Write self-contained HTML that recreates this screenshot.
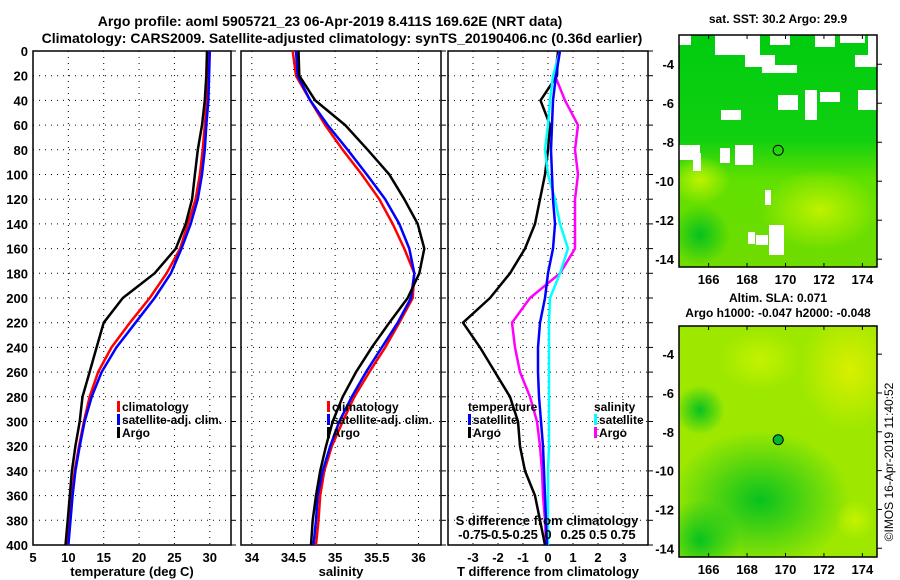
<!DOCTYPE html>
<html><head><meta charset="utf-8"><style>
body{margin:0;background:#fff;}
svg{display:block;font-family:"Liberation Sans",sans-serif;font-weight:bold;}
</style></head><body>
<svg id="fig" width="900" height="580" viewBox="0 0 900 580">
<defs>
<linearGradient id="topMapGrad" x1="0" y1="0" x2="0" y2="1">
<stop offset="0" stop-color="#00cc10"/><stop offset="0.45" stop-color="#10d010"/><stop offset="0.62" stop-color="#60e000"/><stop offset="1" stop-color="#70dc00"/></linearGradient>
<radialGradient id="yellowBlob" cx="0.5" cy="0.5" r="0.5"><stop offset="0" stop-color="#c8f400" stop-opacity="0.9"/><stop offset="1" stop-color="#c8f400" stop-opacity="0"/></radialGradient>
<radialGradient id="greenBlob" cx="0.5" cy="0.5" r="0.5"><stop offset="0" stop-color="#00c020" stop-opacity="0.95"/><stop offset="1" stop-color="#00c020" stop-opacity="0"/></radialGradient>
<radialGradient id="yellow2" cx="0.5" cy="0.5" r="0.5"><stop offset="0" stop-color="#e0f000" stop-opacity="0.9"/><stop offset="1" stop-color="#e0f000" stop-opacity="0"/></radialGradient>
<clipPath id="clipTop"><rect x="679" y="35" width="198" height="232"/></clipPath>
<clipPath id="clipBot"><rect x="679" y="326" width="198" height="231"/></clipPath>
</defs>
<text x="330" y="26" font-size="14" text-anchor="middle">Argo profile: aoml 5905721_23 06-Apr-2019 8.411S 169.62E (NRT data)</text>
<text x="342" y="43" font-size="14" text-anchor="middle">Climatology: CARS2009. Satellite-adjusted climatology: synTS_20190406.nc (0.36d earlier)</text>
<g id="charts"></g>
<g id="maps"></g>
<text transform="translate(893,462) rotate(-90)" font-size="12" font-weight="normal" text-anchor="middle">©IMOS 16-Apr-2019 11:40:52</text>
</svg>
<script>
const depths=[0,20,40,60,80,100,120,140,160,180,200,220,240,260,280,300,320,340,360,380,400];
const tempClim=[29.7,29.7,29.6,29.3,29.0,28.6,28.0,26.9,25.8,23.9,21.5,18.7,16.1,14.2,13.0,12.2,11.5,10.9,10.5,10.2,9.9];
const tempSat=[30.0,29.9,29.8,29.5,29.3,28.9,28.3,27.3,26.0,24.5,22.2,19.5,16.8,14.7,13.3,12.3,11.6,11.0,10.6,10.3,10.0];
const tempArgo=[29.6,29.5,29.3,28.9,28.3,27.9,27.5,26.6,25.2,22.2,17.7,15.0,14.0,13.0,12.0,11.6,11.0,10.5,10.2,9.9,9.6];
const salClim=[34.49,34.53,34.7,34.88,35.09,35.32,35.53,35.69,35.83,35.95,35.93,35.77,35.6,35.41,35.23,35.09,34.96,34.87,34.82,34.8,34.77];
const salSat=[34.53,34.55,34.7,34.91,35.15,35.38,35.6,35.77,35.89,35.95,35.91,35.75,35.56,35.37,35.2,35.05,34.94,34.85,34.79,34.77,34.74];
const salArgo=[34.56,34.57,34.76,35.12,35.39,35.65,35.83,35.99,36.07,36.01,35.87,35.65,35.44,35.25,35.09,34.97,34.89,34.82,34.77,34.73,34.71];
const dTsat=[0.48,0.32,0.2,0.16,0.12,0.16,0.2,0.28,0.2,0,-0.12,-0.32,-0.4,-0.4,-0.36,-0.28,-0.2,-0.16,-0.12,-0.08,-0.04];
const dTargo=[0.4,0.36,-0.3,0.08,0,-0.12,-0.32,-0.52,-0.92,-1.52,-2.32,-3.4,-2.72,-2.12,-1.52,-1.2,-1.12,-0.92,-0.52,-0.32,-0.12];
const dSsat=[0.12,0.05,0.02,0,-0.03,0,0.07,0.12,0.2,0.12,0.02,0.01,0.01,0.01,0.01,0.01,0.01,0,0,0,0];
const dSargo=[0.1,0.07,0.17,0.3,0.27,0.3,0.27,0.27,0.27,0.12,-0.18,-0.36,-0.33,-0.28,-0.18,-0.11,-0.08,-0.06,-0.05,-0.03,-0.02];
const depthTicks=[0,20,40,60,80,100,120,140,160,180,200,220,240,260,280,300,320,340,360,380,400];
const tempTicks=[5,10,15,20,25,30];
const salTicks=[34,34.5,35,35.5,36];
const salTickLabels=["34","34.5","35","35.5","36"];
const dTTicks=[-3,-2,-1,0,1,2,3];
const dSTicks=[-0.75,-0.5,-0.25,0,0.25,0.5,0.75];
const dSTickLabels=["-0.75","-0.5","-0.25","0","0.25","0.5","0.75"];
const lonTicks=[166,168,170,172,174];
const latTicks=[-4,-6,-8,-10,-12,-14];

const NS="http://www.w3.org/2000/svg";
const G=document.getElementById('charts');
function el(tag,attrs,parent){const e=document.createElementNS(NS,tag);for(const k in attrs)e.setAttribute(k,attrs[k]);(parent||G).appendChild(e);return e;}
const Y0=51,Y1=545;
function yD(d){return Y0+(d/400)*(Y1-Y0);}
function lin(d0,d1,p0,p1){return v=>p0+(v-d0)/(d1-d0)*(p1-p0);}
const panels=[
 {x0:33,x1:231,dom:[5,33],ticks:tempTicks,labels:tempTicks.map(String),name:'temperature-panel',xlabel:'temperature (deg C)'},
 {x0:241,x1:441,dom:[33.87,36.27],ticks:salTicks,labels:salTickLabels,name:'salinity-panel',xlabel:'salinity'},
 {x0:448,x1:648,dom:[-4,4],ticks:dTTicks,labels:dTTicks.map(String),name:'difference-panel',xlabel:'T difference from climatology'}
];
panels.forEach((p,i)=>{
 const g=el('g',{});
 
 
 p.x=lin(p.dom[0],p.dom[1],p.x0,p.x1);p.g=g;
 p.ticks.forEach((t,j)=>{
  const X=p.x(t);
  const l=el('line',{x1:X,x2:X,y1:Y0,y2:Y1,stroke:'#000','stroke-width':1,'stroke-dasharray':'1,5'},g);
  
  
  const tx=el('text',{x:X,y:Y1+17,'font-size':13,'text-anchor':'middle'},g);tx.textContent=p.labels[j];
  
  
 });
 depthTicks.forEach(d=>{
  if(d>0&&d<400){const l=el('line',{x1:p.x0,x2:p.x1,y1:yD(d),y2:yD(d),stroke:'#000','stroke-width':1,'stroke-dasharray':'1,5'},g);
  
  }
  el('line',{x1:p.x1,x2:p.x1+5,y1:yD(d),y2:yD(d),stroke:'#000'},g);
  if(i===0){const tx=el('text',{x:28,y:yD(d)+5,'font-size':13,'text-anchor':'end'},g);tx.textContent=d;
  
  }
 });
 const r=el('rect',{x:p.x0,y:Y0,width:p.x1-p.x0,height:Y1-Y0,fill:'none',stroke:'#000','stroke-width':1.5},g);
 
 
 const xl=el('text',{x:(p.x0+p.x1)/2,y:576,'font-size':13,'text-anchor':'middle'},g);xl.textContent=p.xlabel;
 
 
});
function line(p,vals,fx,color,name){
 const pts=vals.map((v,k)=>fx(v).toFixed(1)+','+yD(depths[k]).toFixed(1)).join(' ');
 const pl=el('polyline',{points:pts,fill:'none',stroke:color,'stroke-width':2.5,'stroke-linejoin':'round'},p.g);
 
 
}
const P=panels;
line(P[0],tempClim,P[0].x,'#ff0000','temp-climatology-line');
line(P[0],tempSat,P[0].x,'#0000ff','temp-satellite-line');
line(P[0],tempArgo,P[0].x,'#000','temp-argo-line');
line(P[1],salClim,P[1].x,'#ff0000','sal-climatology-line');
line(P[1],salSat,P[1].x,'#0000ff','sal-satellite-line');
line(P[1],salArgo,P[1].x,'#000','sal-argo-line');
const xS=v=>P[2].x(v*4);
line(P[2],dSargo,xS,'#ff00ff','sdiff-argo-line');
line(P[2],dTargo,P[2].x,'#000','tdiff-argo-line');
line(P[2],dSsat,xS,'#00ffff','sdiff-satellite-line');
line(P[2],dTsat,P[2].x,'#0000ff','tdiff-satellite-line');
// S axis labels
const sg=el('g',{});


const st=el('text',{x:547,y:525,'font-size':13,'text-anchor':'middle'},sg);st.textContent='S difference from climatology';
dSTicks.forEach((t,j)=>{const tx=el('text',{x:xS(t),y:539,'font-size':13,'text-anchor':'middle'},sg);tx.textContent=dSTickLabels[j];
 
 });
// legends
function legend(x,y,items,name){
 const g=el('g',{});
 
 
 items.forEach((it,k)=>{
  const yy=y+k*13;
  if(it[1])el('rect',{x:x,y:yy-10,width:3,height:11,fill:it[1]},g);
  const t=el('text',{x:x+(it[1]?5:0),y:yy,'font-size':12},g);t.textContent=it[0];
  
  
 });
}
legend(117,411,[['climatology','#f00'],['satellite-adj. clim.','#00f'],['Argo','#000']],'temp-legend');
legend(327,411,[['climatology','#f00'],['satellite-adj. clim.','#00f'],['Argo','#000']],'sal-legend');
legend(468,411,[['temperature',null],['satellite','#00f'],['Argo','#000']],'tdiff-legend');
legend(594,411,[['salinity',null],['satellite','#0ff'],['Argo','#f0f']],'sdiff-legend');

// maps
const M=document.getElementById('maps');
function mapAxes(y0,y1,latTop,latBot,name,title,titleY){
 const g=el('g',{},M);
 
 
 const lx=lin(164.46,174.76,679,877),ly=lin(latTop,latBot,y0,y1);
 lonTicks.forEach(l=>{el('line',{x1:lx(l),x2:lx(l),y1:y0,y2:y0+4,stroke:'#000'},g);el('line',{x1:lx(l),x2:lx(l),y1:y1,y2:y1-4,stroke:'#000'},g);
  const t=el('text',{x:lx(l),y:y1+17,'font-size':13,'text-anchor':'middle'},g);t.textContent=l;
  
  });
 latTicks.forEach(l=>{el('line',{x1:877,x2:882,y1:ly(l),y2:ly(l),stroke:'#000'},g);
  const t=el('text',{x:674,y:ly(l)+5,'font-size':13,'text-anchor':'end'},g);t.textContent=l;
  
  });
 el('rect',{x:679,y:y0,width:198,height:y1-y0,fill:'none',stroke:'#000','stroke-width':1.5},g);
 title.forEach((s,k)=>{const t=el('text',{x:778,y:titleY+k*15,'font-size':12,'text-anchor':'middle'},g);t.textContent=s;
  
  });
 const c=el('circle',{cx:lx(169.62),cy:ly(-8.41),r:5,fill:name==='sla-map'?'#00b830':'none',stroke:'#000'},g);
 
 
}
// top SST map background
const tg=el('g',{'clip-path':'url(#clipTop)'},M);


el('rect',{x:679,y:35,width:198,height:232,fill:'url(#topMapGrad)'},tg);
el('ellipse',{cx:820,cy:210,rx:60,ry:40,fill:'url(#yellowBlob)'},tg);
el('ellipse',{cx:700,cy:180,rx:30,ry:25,fill:'url(#yellowBlob)'},tg);
el('ellipse',{cx:700,cy:235,rx:30,ry:30,fill:'url(#greenBlob)'},tg);
[[679,35,12,10],[715,35,45,20],[745,55,30,12],[770,35,20,10],[815,35,20,12],[840,35,25,8],[868,35,9,25],[762,65,35,8],[855,55,22,12],[675,145,25,15],[735,145,18,20],[720,148,10,15],[778,95,20,15],[805,90,12,30],[820,92,20,10],[858,90,19,20],[721,110,20,10],[693,153,8,18],[769,225,15,30],[756,235,12,10],[765,190,6,15]].forEach(r=>el('rect',{x:r[0],y:r[1],width:r[2],height:r[3],fill:'#fff'},tg));
el('rect',{x:748,y:232,width:7,height:12,fill:'#fff'},tg);
mapAxes(35,267,-2.5,-14.4,'sst-map',['sat. SST: 30.2 Argo: 29.9'],23);
// bottom SLA map
const bg=el('g',{'clip-path':'url(#clipBot)'},M);


el('rect',{x:679,y:326,width:198,height:231,fill:'#9ee800'},bg);
el('ellipse',{cx:850,cy:370,rx:50,ry:60,fill:'url(#yellow2)'},bg);
el('ellipse',{cx:760,cy:360,rx:40,ry:30,fill:'url(#yellowBlob)'},bg);
el('ellipse',{cx:760,cy:500,rx:90,ry:70,fill:'url(#greenBlob)'},bg);
el('ellipse',{cx:700,cy:410,rx:25,ry:25,fill:'url(#greenBlob)'},bg);
el('ellipse',{cx:700,cy:540,rx:40,ry:40,fill:'url(#greenBlob)'},bg);
el('ellipse',{cx:855,cy:520,rx:20,ry:20,fill:'url(#yellowBlob)'},bg);
mapAxes(326,557,-2.55,-14.45,'sla-map',['Altim. SLA: 0.071','Argo h1000: -0.047 h2000: -0.048'],302);
</script>
</body></html>
